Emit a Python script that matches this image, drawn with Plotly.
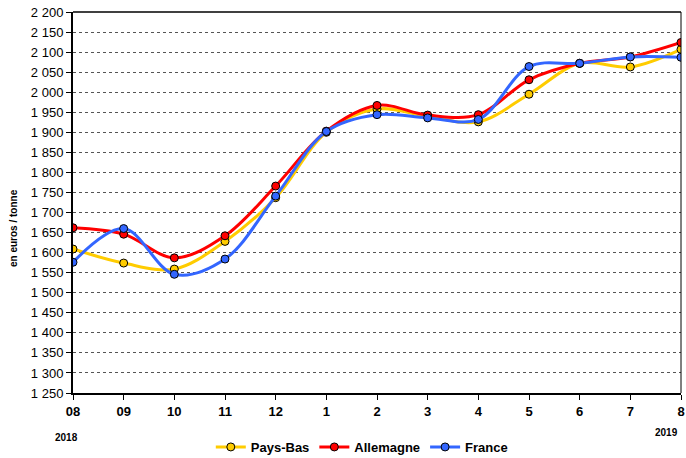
import plotly.graph_objects as go

months = ["08", "09", "10", "11", "12", "1", "2", "3", "4", "5", "6", "7", "8"]
pays_bas = [1609, 1574, 1559, 1628, 1737, 1900, 1958, 1940, 1926, 1995, 2072, 2063, 2107]
allemagne = [1662, 1646, 1587, 1642, 1766, 1903, 1967, 1943, 1944, 2031, 2072, 2088, 2124]
france = [1576, 1660, 1546, 1584, 1741, 1902, 1944, 1936, 1932, 2064, 2072, 2088, 2087]

y_ticks = list(range(1250, 2201, 50))
y_labels = [f"{v // 1000} {v % 1000:03d}" for v in y_ticks]

series = [
    ("Pays-Bas", pays_bas, "#FFCC00"),
    ("Allemagne", allemagne, "#FF0000"),
    ("France", france, "#3366FF"),
]

fig = go.Figure()
for name, vals, col in series:
    fig.add_trace(go.Scatter(
        x=list(range(len(months))), y=vals, name=name, mode="lines+markers",
        line=dict(color=col, width=3, shape="spline", smoothing=1.0),
        marker=dict(size=8, color=col, line=dict(color="black", width=1)),
    ))

font = "Liberation Sans, Arial, sans-serif"
fig.update_layout(
    width=686, height=458,
    margin=dict(l=73, r=5, t=12, b=65, autoexpand=False),
    paper_bgcolor="white", plot_bgcolor="white",
    font=dict(family=font, color="black"),
    showlegend=True,
    legend=dict(orientation="h", xref="paper", x=0.475, xanchor="center",
                yref="container", y=1 - 447 / 458, yanchor="middle",
                font=dict(size=13, family=font, color="black", weight="bold"),
                itemwidth=30, tracegroupgap=0),
    xaxis=dict(
        range=[0, 12], tickmode="array", tickvals=list(range(len(months))), ticktext=months,
        showgrid=False, showline=True, linecolor="black", linewidth=2,
        ticks="outside", ticklen=5, tickcolor="black",
        tickfont=dict(size=13, family=font, weight="bold"), zeroline=False,
    ),
    yaxis=dict(
        range=[1250, 2200], tickmode="array", tickvals=y_ticks, ticktext=y_labels,
        showgrid=True, gridcolor="#555555", griddash="dot", gridwidth=1,
        showline=True, linecolor="black", linewidth=2,
        ticks="outside", ticklen=5, tickcolor="black",
        tickfont=dict(size=13, family=font), zeroline=False,
    ),
    shapes=[
        dict(type="line", xref="paper", yref="paper", x0=0, x1=1, y0=1, y1=1,
             line=dict(color="black", width=1.5)),
        dict(type="line", xref="paper", yref="paper", x0=1, x1=1, y0=0, y1=1,
             line=dict(color="black", width=1)),
    ],
    annotations=[
        dict(text="en euros / tonne", xref="paper", yref="paper", x=-0.0987, y=0.433,
             xanchor="center", yanchor="middle", textangle=-90, showarrow=False,
             font=dict(size=10, family=font, weight="bold")),
        dict(text="2018", xref="paper", yref="paper", x=-0.01, y=-0.1155, xanchor="center", yanchor="middle",
             showarrow=False, font=dict(size=10, family=font, weight="bold")),
        dict(text="2019", xref="paper", yref="paper", x=0.976, y=-0.1024, xanchor="center", yanchor="middle",
             showarrow=False, font=dict(size=10, family=font, weight="bold")),
    ],
)

fig.write_html("out.html", config={"displayModeBar": False},
               post_script="document.body.style.margin='0';")
